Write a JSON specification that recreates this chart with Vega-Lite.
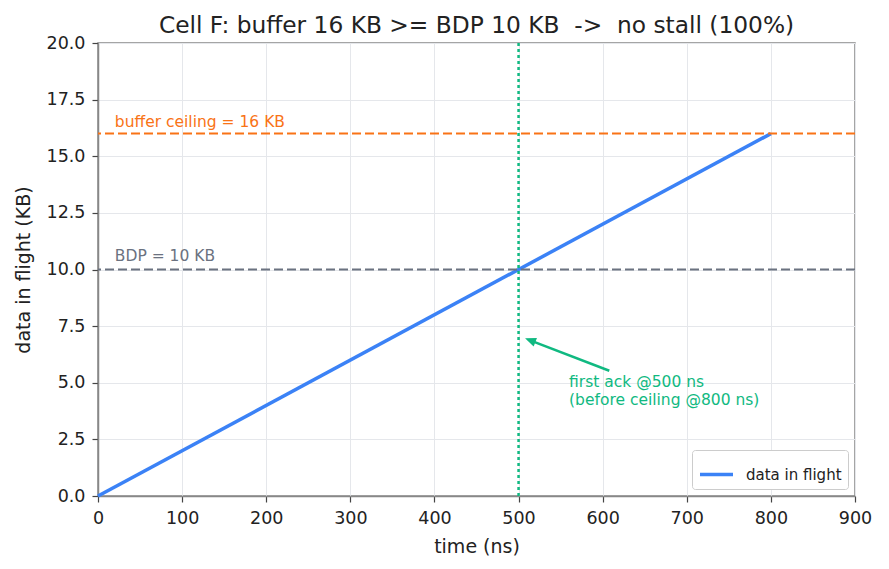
{
  "$schema": "https://vega.github.io/schema/vega-lite/v6.json",
  "width": 757,
  "height": 453,
  "autosize": {"type": "none"},
  "padding": {"left": 98, "top": 43, "right": 34, "bottom": 73},
  "background": "white",
  "title": {
    "text": "Cell F: buffer 16 KB >= BDP 10 KB \u00a0-> \u00a0no stall (100%)",
    "font": "DejaVu Sans",
    "fontSize": 23.3,
    "fontWeight": "normal",
    "color": "#222222",
    "anchor": "middle",
    "frame": "group",
    "baseline": "alphabetic",
    "offset": 6,
    "dy": 28
  },
  "config": {
    "font": "DejaVu Sans",
    "view": {"stroke": "#888888", "strokeWidth": 1.5},
    "axis": {
      "domainColor": "#888888",
      "domainWidth": 1.5,
      "tickColor": "#444444",
      "tickWidth": 1.2,
      "tickSize": 6,
      "labelFont": "DejaVu Sans",
      "labelFontSize": 17.5,
      "labelColor": "#222222",
      "labelPadding": 7,
      "labelFlush": false,
      "labelOverlap": false,
      "titleFont": "DejaVu Sans",
      "titleFontSize": 19,
      "titleFontWeight": "normal",
      "titleColor": "#222222",
      "gridColor": "#e5e7eb",
      "gridWidth": 1
    },
    "axisX": {"titleY": 56, "titleBaseline": "alphabetic"},
    "axisY": {"titleX": -75, "titleBaseline": "middle"},
    "legend": {
      "orient": "bottom-right",
      "offset": 7,
      "fillColor": "white",
      "strokeColor": "#cccccc",
      "cornerRadius": 3,
      "padding": 6,
      "labelFont": "DejaVu Sans",
      "labelFontSize": 15,
      "labelColor": "#222222",
      "labelOffset": 11,
      "symbolType": "stroke",
      "symbolSize": 1089,
      "symbolStrokeWidth": 3.5
    }
  },
  "datasets": {
    "flight": [
      {"t": 0, "kb": 0, "series": "data in flight"},
      {"t": 800, "kb": 16, "series": "data in flight"}
    ],
    "ceiling": [{"kb": 16, "label": "buffer ceiling = 16 KB", "t": 20, "ty": 16.3}],
    "bdp": [{"kb": 10, "label": "BDP = 10 KB", "t": 20, "ty": 10.38}],
    "ack": [{"t": 500}],
    "ackNote": [{"t": 560, "kb": 4.83, "label": "first ack @500 ns\n(before ceiling @800 ns)"}],
    "arrow": [{"t": 607.9, "kb": 5.53, "t2": 513, "kb2": 6.88, "tipT": 507.7, "tipKb": 6.96}]
  },
  "layer": [
    {
      "data": {"name": "flight"},
      "mark": {"type": "line", "strokeWidth": 3.5, "strokeCap": "butt"},
      "encoding": {
        "x": {
          "field": "t",
          "type": "quantitative",
          "title": "time (ns)",
          "scale": {"domain": [0, 900], "nice": false, "zero": false},
          "axis": {"values": [0, 100, 200, 300, 400, 500, 600, 700, 800, 900], "format": "d", "grid": true}
        },
        "y": {
          "field": "kb",
          "type": "quantitative",
          "title": "data in flight (KB)",
          "scale": {"domain": [0, 20], "nice": false, "zero": false},
          "axis": {"values": [0, 2.5, 5, 7.5, 10, 12.5, 15, 17.5, 20], "format": ".1f", "grid": true}
        },
        "color": {
          "field": "series",
          "type": "nominal",
          "scale": {"range": ["#3b82f6"]},
          "legend": {"title": null}
        }
      }
    },
    {
      "data": {"name": "ceiling"},
      "mark": {"type": "rule", "color": "#f97316", "strokeWidth": 2, "strokeDash": [9, 4]},
      "encoding": {
        "y": {"field": "kb", "type": "quantitative", "title": "data in flight (KB)"}
      }
    },
    {
      "data": {"name": "bdp"},
      "mark": {"type": "rule", "color": "#6b7280", "strokeWidth": 2, "strokeDash": [9, 4]},
      "encoding": {
        "y": {"field": "kb", "type": "quantitative", "title": "data in flight (KB)"}
      }
    },
    {
      "data": {"name": "ceiling"},
      "mark": {"type": "text", "color": "#f97316", "fontSize": 15.5, "align": "left", "baseline": "alphabetic"},
      "encoding": {
        "x": {"field": "t", "type": "quantitative", "title": "time (ns)"},
        "y": {"field": "ty", "type": "quantitative", "title": "data in flight (KB)"},
        "text": {"field": "label"}
      }
    },
    {
      "data": {"name": "bdp"},
      "mark": {"type": "text", "color": "#6b7280", "fontSize": 15.5, "align": "left", "baseline": "alphabetic"},
      "encoding": {
        "x": {"field": "t", "type": "quantitative", "title": "time (ns)"},
        "y": {"field": "ty", "type": "quantitative", "title": "data in flight (KB)"},
        "text": {"field": "label"}
      }
    },
    {
      "data": {"name": "ack"},
      "mark": {"type": "rule", "color": "#10b981", "strokeWidth": 2.5, "strokeDash": [3, 3]},
      "encoding": {
        "x": {"field": "t", "type": "quantitative", "title": "time (ns)"}
      }
    },
    {
      "data": {"name": "arrow"},
      "mark": {"type": "rule", "color": "#10b981", "strokeWidth": 2.5},
      "encoding": {
        "x": {"field": "t", "type": "quantitative", "title": "time (ns)"},
        "y": {"field": "kb", "type": "quantitative", "title": "data in flight (KB)"},
        "x2": {"field": "t2"},
        "y2": {"field": "kb2"}
      }
    },
    {
      "data": {"name": "arrow"},
      "mark": {
        "type": "point",
        "shape": "M0,0L-1,-0.42L-1,0.42Z",
        "size": 484,
        "angle": 201,
        "filled": true,
        "opacity": 1,
        "color": "#10b981"
      },
      "encoding": {
        "x": {"field": "tipT", "type": "quantitative", "title": "time (ns)"},
        "y": {"field": "tipKb", "type": "quantitative", "title": "data in flight (KB)"}
      }
    },
    {
      "data": {"name": "ackNote"},
      "mark": {"type": "text", "color": "#10b981", "fontSize": 15.5, "align": "left", "baseline": "alphabetic", "lineBreak": "\n", "lineHeight": 18.5},
      "encoding": {
        "x": {"field": "t", "type": "quantitative", "title": "time (ns)"},
        "y": {"field": "kb", "type": "quantitative", "title": "data in flight (KB)"},
        "text": {"field": "label"}
      }
    }
  ]
}
